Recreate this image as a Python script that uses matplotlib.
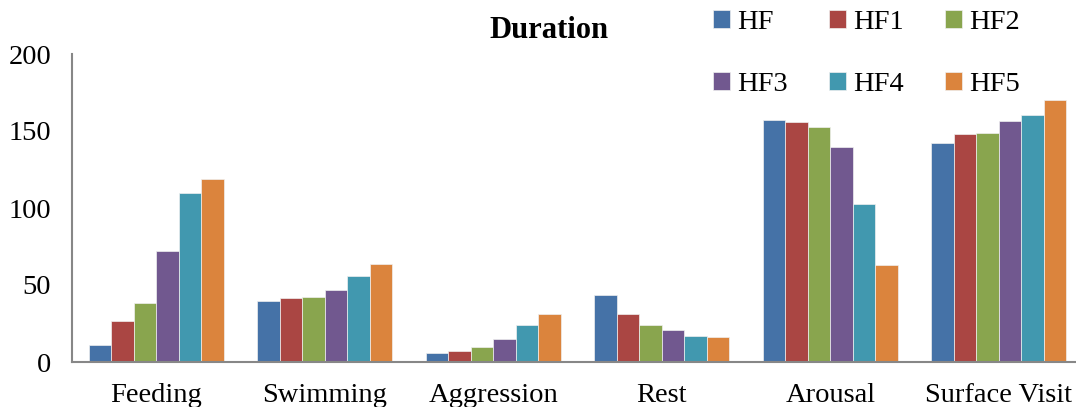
import numpy as np
import matplotlib
matplotlib.use('Agg')
import matplotlib.pyplot as plt

plt.rcParams['font.family'] = ['Liberation Serif', 'DejaVu Serif']

categories = ['Feeding', 'Swimming', 'Aggression', 'Rest', 'Arousal', 'Surface Visit']
series = ['HF', 'HF1', 'HF2', 'HF3', 'HF4', 'HF5']
# one list per series, in category order
values = {
    'HF':  [11, 39.5, 6, 43.5, 157, 142],
    'HF1': [26.5, 41.5, 7, 31, 156, 148],
    'HF2': [38, 42.5, 10, 24, 152.5, 149],
    'HF3': [72, 46.5, 15, 21, 139.5, 156.5],
    'HF4': [110, 56, 24, 17, 102.5, 160.5],
    'HF5': [119, 63.5, 31, 16, 63, 170],
}
colors = ['#4572A7', '#AA4643', '#89A54E', '#71588F', '#4198AF', '#DB843D']

fig = plt.figure(figsize=(10.76, 4.07), dpi=100)
ax = fig.add_axes([72 / 1076, 1 - 362 / 407, 1011 / 1076, 308 / 407])

x = np.arange(len(categories))
w = 0.1335
bars = []
for i, s in enumerate(series):
    b = ax.bar(x + (i - 2.5) * w, values[s], width=w, color=colors[i],
               edgecolor='#f0f0f0', linewidth=0.5, label=s)
    bars.append(b)

ax.set_xlim(-0.5, len(categories) - 0.5)
ax.set_ylim(0, 200)
ax.set_yticks([0, 50, 100, 150, 200])
ax.set_xticks(x)
ax.set_xticklabels(categories)
for side in ['top', 'right']:
    ax.spines[side].set_visible(False)
for side in ['left', 'bottom']:
    ax.spines[side].set_color('#878787')
    ax.spines[side].set_linewidth(1.5)
ax.tick_params(axis='both', length=0, labelsize=20.5)
ax.tick_params(axis='x', pad=15)
ax.tick_params(axis='y', pad=15)

fig.text(549 / 1076, 1 - 31 / 407, 'Duration', ha='center', va='center',
         fontsize=22, fontweight='bold')

# legend filled row by row: HF HF1 HF2 / HF3 HF4 HF5
order = [0, 3, 1, 4, 2, 5]
fig.legend([bars[k] for k in order], [series[k] for k in order],
           loc='upper left', bbox_to_anchor=(713 / 1076, 1 - 10 / 407),
           ncol=3, frameon=False, fontsize=20.5, handlelength=0.6,
           handleheight=0.6, handletextpad=0.25, columnspacing=1.45,
           labelspacing=1.3, borderpad=0, borderaxespad=0)

fig.savefig('out.png', dpi=100)
